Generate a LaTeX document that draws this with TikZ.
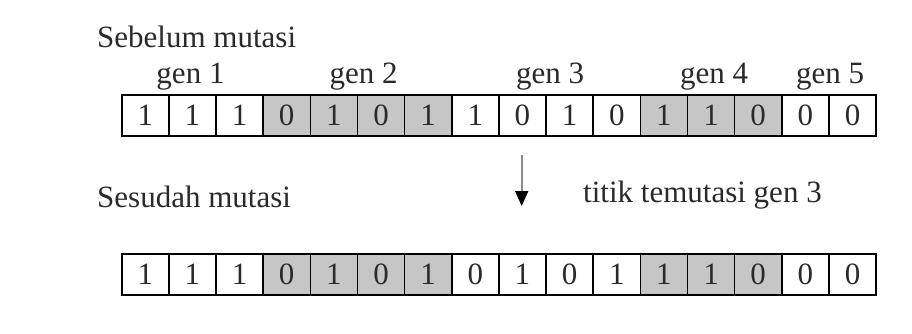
\documentclass[tikz,border=0pt]{standalone}
\usepackage{fontspec}
\setmainfont{Liberation Serif}
\usetikzlibrary{arrows.meta}
\definecolor{cellgray}{HTML}{C6C6C6}
\definecolor{textgray}{HTML}{2A2A2A}
\tikzset{
  bit/.style={draw=black, line width=1.6pt, minimum width=47.15pt, minimum height=41pt,
              inner sep=0pt, outer sep=0pt, anchor=north west, text=textgray,
              font=\fontsize{31}{32}\selectfont},
  shaded/.style={bit, fill=cellgray},
  plain/.style={bit, fill=white},
  caption/.style={anchor=base west, inner sep=0pt, text=textgray, font=\fontsize{31}{32}\selectfont},
  genlabel/.style={anchor=base, inner sep=0pt, text=textgray, font=\fontsize{31}{32}\selectfont},
}
\begin{document}
\begin{tikzpicture}[x=1pt,y=-1pt]
\useasboundingbox[fill=white] (0,0) rectangle (912,334);

% chromosome before mutation
\node[caption] (before) at (97,48) {Sebelum mutasi};
\foreach \v [count=\i] in {1,1,1,0,1,0,1,1,0,1,0,1,1,0,0,0} {
  \pgfmathtruncatemacro{\g}{(\i>=4 && \i<=7) || (\i>=12 && \i<=14)}
  \ifnum\g=1 \def\sty{shaded}\else\def\sty{plain}\fi
  \node[\sty] (a\i) at ({121.7+(\i-1)*47.15},95) {\v};
}
\node[genlabel] (g1) at (190.5,84) {gen 1};
\node[genlabel] (g2) at (363.5,84) {gen 2};
\node[genlabel] (g3) at (550,84) {gen 3};
\node[genlabel] (g4) at (714,84) {gen 4};
\node[genlabel] (g5) at (830,84) {gen 5};

% mutation marker
\coordinate (arrtop) at (521.7,155);
\coordinate (arrtip) at (521.7,206);
\draw[line width=1.8pt, draw=black!45,
      -{Triangle[length=15pt,width=13pt,fill=black,color=black]}] (arrtop) -- (arrtip);
\node[caption] (note) at (583,202) {titik temutasi gen 3};

% chromosome after mutation
\node[caption] (after) at (97,207) {Sesudah mutasi};
\foreach \v [count=\i] in {1,1,1,0,1,0,1,0,1,0,1,1,1,0,0,0} {
  \pgfmathtruncatemacro{\g}{(\i>=4 && \i<=7) || (\i>=12 && \i<=14)}
  \ifnum\g=1 \def\sty{shaded}\else\def\sty{plain}\fi
  \node[\sty] (b\i) at ({121.7+(\i-1)*47.15},254) {\v};
}
\end{tikzpicture}
\end{document}
